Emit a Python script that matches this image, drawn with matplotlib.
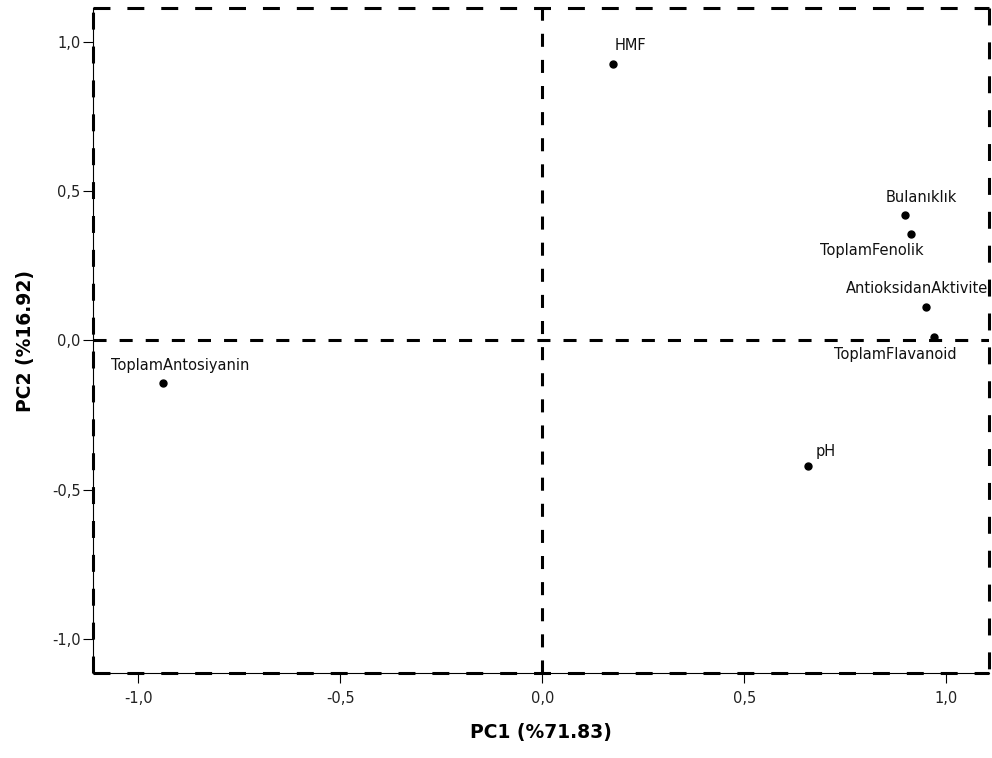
import matplotlib
matplotlib.use("Agg")
import matplotlib.pyplot as plt

plt.rcParams['font.family'] = ['DejaVu Sans']
plt.rcParams['lines.scale_dashes'] = False

# component loadings
variables = ["HMF", "Bulanıklık", "ToplamFenolik", "AntioksidanAktivite",
             "ToplamFlavanoid", "pH", "ToplamAntosiyanin"]
pc1 = [0.174, 0.897, 0.914, 0.949, 0.971, 0.659, -0.939]
pc2 = [0.925, 0.421, 0.357, 0.113, 0.010, -0.421, -0.141]

tick_values = [-1.0, -0.5, 0.0, 0.5, 1.0]
tick_labels = ["-1,0", "-0,5", "0,0", "0,5", "1,0"]

xlabel = "PC1 (%71.83)"
ylabel = "PC2 (%16.92)"

# label offsets in pixels (dx, dy) relative to the point
label_offsets = {
    "HMF": (18, 18),
    "Bulanıklık": (17, 17),
    "ToplamFenolik": (-40, -17),
    "AntioksidanAktivite": (-9, 18),
    "ToplamFlavanoid": (-39, -17),
    "pH": (17, 15),
    "ToplamAntosiyanin": (17, 17),
}

fig = plt.figure(figsize=(9.92, 7.58), dpi=100)
ax = fig.add_axes([0.0938, 0.1121, 0.9032, 0.8773])

ax.set_xlim(-1.112, 1.106)
ax.set_ylim(-1.113, 1.112)

# zero reference lines
ax.axhline(0, color="black", lw=2.2, dashes=(9.4, 9.4), zorder=1)
ax.axvline(0, color="black", lw=2.2, dashes=(9.4, 9.4), zorder=1)

ax.plot(pc1, pc2, "o", color="black", markersize=5, zorder=3)

for name, x, y in zip(variables, pc1, pc2):
    dx, dy = label_offsets[name]
    ax.annotate(name, (x, y), xytext=(dx, dy), textcoords="offset pixels",
                ha="center", va="center", fontsize=10.5, color="#111111",
                annotation_clip=False)

# frame: thin solid left/bottom spines, thick dashed outline all round
for side in ["top", "right"]:
    ax.spines[side].set_visible(False)
for side in ["left", "bottom"]:
    ax.spines[side].set_linewidth(0.8)

frame = dict(color="black", lw=2.2, dashes=(12.2, 12.2),
             transform=ax.transAxes, clip_on=False, zorder=4)
ax.plot([0, 1], [1, 1], **frame)
ax.plot([1, 1], [1, 0], **frame)
ax.plot([0, 1], [0, 0], **frame)
ax.plot([0, 0], [0, 1], **frame)

ax.set_xticks(tick_values)
ax.set_xticklabels(tick_labels)
ax.set_yticks(tick_values)
ax.set_yticklabels(tick_labels)
ax.tick_params(axis="x", direction="out", length=7, width=0.8, pad=6,
               labelsize=10.5, labelcolor="#222222")
ax.tick_params(axis="y", direction="out", length=7, width=0.8, pad=2,
               labelsize=10.5, labelcolor="#222222")

ax.set_xlabel(xlabel, fontsize=13.5, fontweight="bold")
ax.set_ylabel(ylabel, fontsize=13.5, fontweight="bold")
ax.xaxis.set_label_coords(0.5, -0.075)
ax.yaxis.set_label_coords(-0.065, 0.5)

fig.savefig("out.png", dpi=100)
